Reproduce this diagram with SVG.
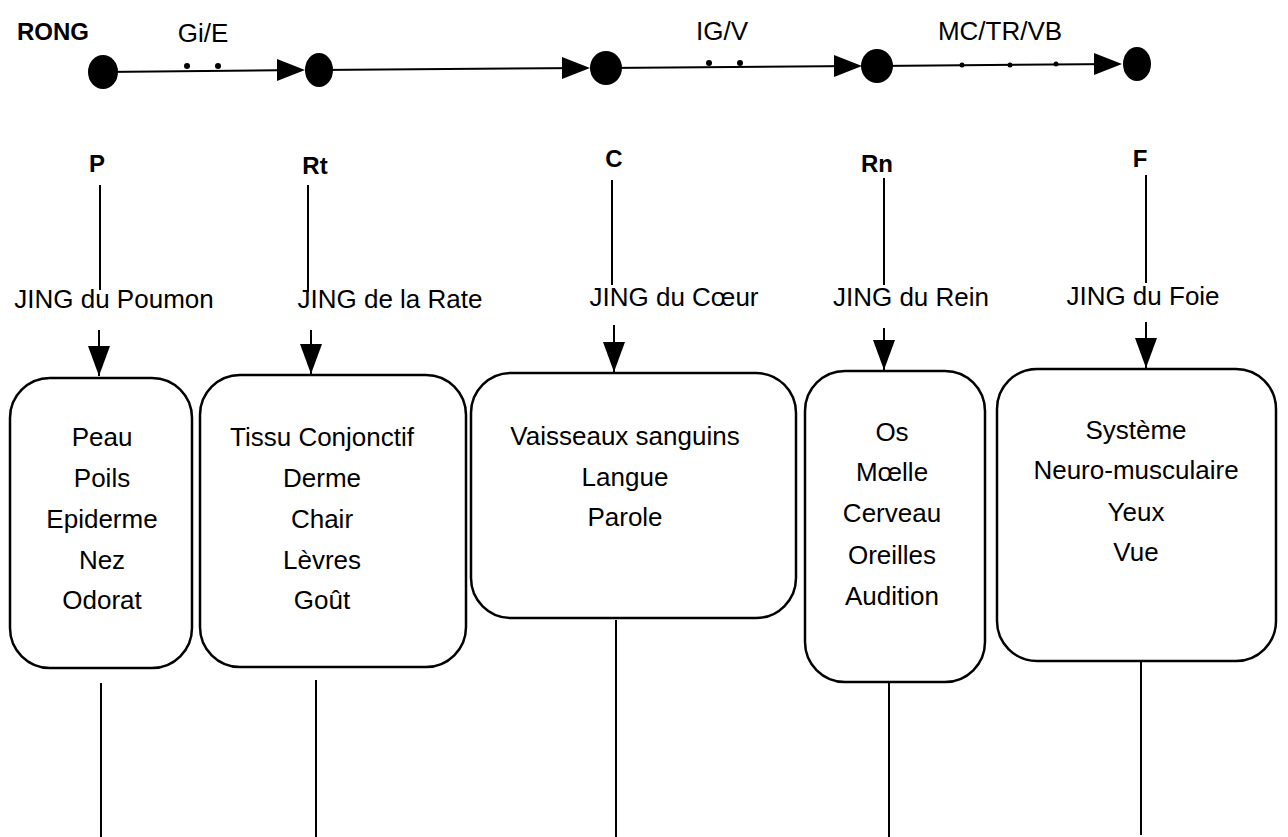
<svg xmlns="http://www.w3.org/2000/svg" width="1288" height="837" viewBox="0 0 1288 837">
<style>
text{font-family:"Liberation Sans",Arial,sans-serif;fill:#000}
.lbl{font-size:26px}
.bold{font-size:24px;font-weight:bold}
.box{fill:#fff;stroke:#000;stroke-width:2.5}
.ln{stroke:#000;stroke-width:2;fill:none}
.hd{fill:#000}
</style>
<defs>
<marker id="ad" viewBox="0 0 30 22" refX="30" refY="11" markerWidth="30" markerHeight="22" markerUnits="userSpaceOnUse" orient="auto">
<path d="M0,0 L30,11 L0,22 Z" fill="#000"/>
</marker>
</defs>
<rect width="1288" height="837" fill="#fff"/>
<g id="title"><text class="bold" x="17" y="40">RONG</text></g>
<g id="connectors">
<line class="ln" x1="103" y1="72" x2="300" y2="70" stroke-width="2.5"/>
<polygon class="hd" points="277,59 277,81 305,70"/>
<line class="ln" x1="319" y1="70" x2="585" y2="68" stroke-width="2.5"/>
<polygon class="hd" points="562,57 562,79 590,68"/>
<line class="ln" x1="606" y1="68" x2="857" y2="66" stroke-width="2.5"/>
<polygon class="hd" points="834,55 834,77 862,66"/>
<line class="ln" x1="877" y1="66" x2="1117" y2="64" stroke-width="2.5"/>
<polygon class="hd" points="1094,53 1094,75 1122,64"/>
<circle class="hd" cx="187" cy="66" r="3"/>
<circle class="hd" cx="218" cy="66" r="3"/>
<circle class="hd" cx="709" cy="63" r="3"/>
<circle class="hd" cx="740" cy="63" r="3"/>
<circle class="hd" cx="962" cy="65" r="2.5"/>
<circle class="hd" cx="1010" cy="65" r="2.5"/>
<circle class="hd" cx="1056" cy="64" r="2.5"/>
<line class="ln" x1="100" y1="185" x2="100" y2="290"/>
<line class="ln" x1="308" y1="185" x2="308" y2="292"/>
<line class="ln" x1="612" y1="180" x2="612" y2="285"/>
<line class="ln" x1="884" y1="178" x2="884" y2="285"/>
<line class="ln" x1="1146" y1="175" x2="1146" y2="283"/>
<line class="ln" x1="99" y1="330" x2="99" y2="376" marker-end="url(#ad)"/>
<line class="ln" x1="311" y1="330" x2="311" y2="374" marker-end="url(#ad)"/>
<line class="ln" x1="614" y1="325" x2="614" y2="372" marker-end="url(#ad)"/>
<line class="ln" x1="884" y1="328" x2="884" y2="370" marker-end="url(#ad)"/>
<line class="ln" x1="1146" y1="322" x2="1146" y2="368" marker-end="url(#ad)"/>
<line class="ln" x1="101" y1="683" x2="101" y2="837"/>
<line class="ln" x1="316" y1="680" x2="316" y2="837"/>
<line class="ln" x1="616" y1="620" x2="616" y2="837"/>
<line class="ln" x1="889" y1="682" x2="889" y2="837"/>
<line class="ln" x1="1141" y1="662" x2="1141" y2="835"/>
</g>
<g id="n1"><ellipse class="hd" cx="103" cy="72" rx="15" ry="17"/></g>
<g id="n2"><ellipse class="hd" cx="319" cy="70" rx="14" ry="17"/><text class="lbl" x="203" y="42" text-anchor="middle">Gi/E</text></g>
<g id="n3"><ellipse class="hd" cx="606" cy="68" rx="16" ry="17"/></g>
<g id="n4"><ellipse class="hd" cx="877" cy="66" rx="16" ry="17"/><text class="lbl" x="722" y="40" text-anchor="middle">IG/V</text></g>
<g id="n5"><ellipse class="hd" cx="1137" cy="64" rx="14" ry="17"/><text class="lbl" x="1000" y="40" text-anchor="middle">MC/TR/VB</text></g>
<g id="P">
<text class="bold" x="97" y="172" text-anchor="middle">P</text>
<text class="lbl" x="114" y="308" text-anchor="middle">JING du Poumon</text>
<rect class="box" x="10" y="378" width="182" height="290" rx="40"/>
<text class="lbl" text-anchor="middle"><tspan x="102" y="446">Peau</tspan><tspan x="102" y="487">Poils</tspan><tspan x="102" y="528">Epiderme</tspan><tspan x="102" y="569">Nez</tspan><tspan x="102" y="609">Odorat</tspan></text>
</g>
<g id="Rt">
<text class="bold" x="315" y="174" text-anchor="middle">Rt</text>
<text class="lbl" x="390" y="308" text-anchor="middle">JING de la Rate</text>
<rect class="box" x="200" y="375" width="266" height="292" rx="40"/>
<text class="lbl" text-anchor="middle"><tspan x="322" y="446">Tissu Conjonctif</tspan><tspan x="322" y="487">Derme</tspan><tspan x="322" y="528">Chair</tspan><tspan x="322" y="569">Lèvres</tspan><tspan x="322" y="609">Goût</tspan></text>
</g>
<g id="C">
<text class="bold" x="614" y="167" text-anchor="middle">C</text>
<text class="lbl" x="674" y="306" text-anchor="middle">JING du Cœur</text>
<rect class="box" x="471" y="373" width="325" height="245" rx="40"/>
<text class="lbl" text-anchor="middle"><tspan x="625" y="445">Vaisseaux sanguins</tspan><tspan x="625" y="486">Langue</tspan><tspan x="625" y="526">Parole</tspan></text>
</g>
<g id="Rn">
<text class="bold" x="877" y="172" text-anchor="middle">Rn</text>
<text class="lbl" x="911" y="306" text-anchor="middle">JING du Rein</text>
<rect class="box" x="805" y="371" width="180" height="311" rx="40"/>
<text class="lbl" text-anchor="middle"><tspan x="892" y="441">Os</tspan><tspan x="892" y="481">Mœlle</tspan><tspan x="892" y="522">Cerveau</tspan><tspan x="892" y="564">Oreilles</tspan><tspan x="892" y="605">Audition</tspan></text>
</g>
<g id="F">
<text class="bold" x="1140" y="167" text-anchor="middle">F</text>
<text class="lbl" x="1143" y="305" text-anchor="middle">JING du Foie</text>
<rect class="box" x="997" y="369" width="279" height="292" rx="40"/>
<text class="lbl" text-anchor="middle"><tspan x="1136" y="439">Système</tspan><tspan x="1136" y="479">Neuro-musculaire</tspan><tspan x="1136" y="521">Yeux</tspan><tspan x="1136" y="561">Vue</tspan></text>
</g>
</svg>
